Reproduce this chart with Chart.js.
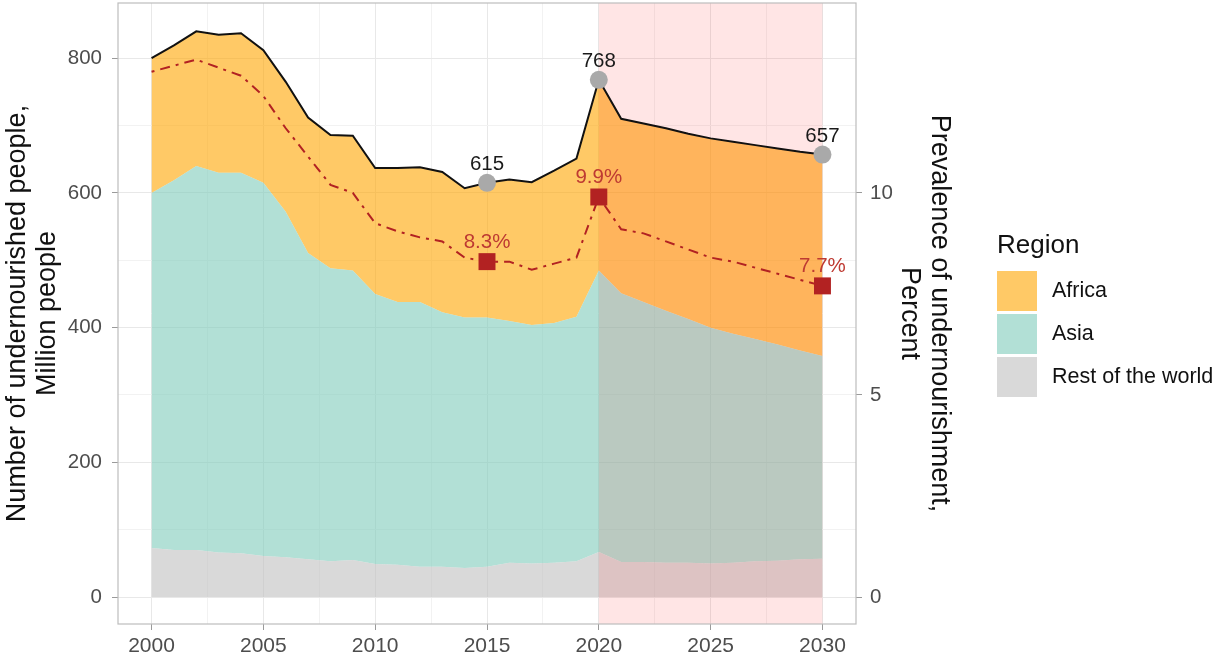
<!DOCTYPE html>
<html>
<head>
<meta charset="utf-8">
<script src="https://cdn.jsdelivr.net/npm/chart.js@4/dist/chart.umd.min.js"></script>
<style>
  html, body { margin: 0; padding: 0; background: #ffffff; }
  #wrap { width: 1213px; height: 661px; position: relative; }
</style>
</head>
<body>
<div id="wrap"><canvas id="c"></canvas></div>
<script>
// ---------------- data ----------------
const years = [2000,2001,2002,2003,2004,2005,2006,2007,2008,2009,2010,2011,2012,2013,2014,2015,
               2016,2017,2018,2019,2020,2021,2022,2023,2024,2025,2026,2027,2028,2029,2030];
// Million people
const restOfWorld = [73,70,70,66,65,61,59,56,53,55,49,48,45,45,43,45,51,50,51,53,67,52,52,51,51,50,51,53,54,56,57];
const asia        = [527,549,570,564,565,554,513,455,435,430,401,390,393,378,372,370,359,354,356,363,418,399,386,374,362,350,340,330,321,310,301];
const africa      = [200,200,200,205,207,197,193,201,198,200,187,199,200,208,192,200,210,212,226,235,283,259,265,271,275,281,285,288,291,295,299];
// Percent
const prevalence  = [13.0,13.15,13.3,13.1,12.9,12.4,11.6,10.9,10.2,10.0,9.25,9.05,8.9,8.8,8.4,8.3,8.3,8.1,8.25,8.4,9.9,9.1,9.0,8.8,8.6,8.4,8.3,8.15,8.0,7.85,7.7];
const highlightYears = [2015, 2020, 2030];
const projectionStart = 2020, projectionEnd = 2030;
const regionNames = ['Africa', 'Asia', 'Rest of the world'];
const xTickLabels = [2000, 2005, 2010, 2015, 2020, 2025, 2030];
const yTickLabels = [0, 200, 400, 600, 800];
const y2TickLabels = [0, 5, 10];

// ---------------- style ----------------
const FONT = "'Liberation Sans', Arial, Helvetica, sans-serif";
const COL_AFRICA = 'rgba(255,165,0,0.6)';
const COL_ASIA = 'rgba(127,203,187,0.6)';
const COL_REST = 'rgba(191,191,191,0.6)';
const KEY_AFRICA = 'rgb(255,201,102)';
const KEY_ASIA = 'rgb(178,224,214)';
const KEY_REST = 'rgb(217,217,217)';
const RED = '#B22222';
const TICK_COL = '#4D4D4D';

const pts = arr => years.map((y, i) => ({x: y, y: arr[i]}));
const isHL = ctx => highlightYears.includes(years[ctx.dataIndex]);

const gridColor = (ctx, step) => {
  const v = ctx.tick ? ctx.tick.value : 0;
  return (Math.abs(v % step) < 1e-9) ? '#E8E8E8' : '#F2F2F2';
};
const tickMarkColor = (ctx, step) => {
  const v = ctx.tick ? ctx.tick.value : 0;
  return (Math.abs(v % step) < 1e-9) ? '#9A9A9A' : 'rgba(0,0,0,0)';
};

const pinkPlugin = {
  id: 'pink',
  beforeDatasetsDraw(chart) {
    const {ctx, chartArea: a, scales: {x}} = chart;
    const x0 = x.getPixelForValue(projectionStart), x1 = x.getPixelForValue(projectionEnd);
    ctx.save();
    ctx.fillStyle = 'rgba(255,0,0,0.1)';
    ctx.fillRect(x0, a.top, x1 - x0, a.bottom - a.top);
    ctx.restore();
  }
};

const labelPlugin = {
  id: 'labels',
  afterDatasetsDraw(chart) {
    const {ctx} = chart;
    const mTot = chart.getDatasetMeta(2);
    const mPrev = chart.getDatasetMeta(3);
    ctx.save();
    ctx.font = '20.5px ' + FONT;
    ctx.textAlign = 'center';
    ctx.textBaseline = 'alphabetic';
    years.forEach((yr, i) => {
      if (!highlightYears.includes(yr)) return;
      const total = restOfWorld[i] + asia[i] + africa[i];
      const p = mTot.data[i];
      ctx.fillStyle = '#1a1a1a';
      ctx.fillText(String(total), p.x, p.y - 13);
      const q = mPrev.data[i];
      ctx.fillStyle = '#BE3A32';
      ctx.fillText(prevalence[i].toFixed(1) + '%', q.x, q.y - 14);
    });
    ctx.restore();
  },
  afterDraw(chart) {
    const {ctx, chartArea: a} = chart;
    ctx.save();
    // panel border
    ctx.strokeStyle = '#BDBDBD';
    ctx.lineWidth = 1.2;
    ctx.strokeRect(a.left, a.top, a.right - a.left, a.bottom - a.top);
    // legend
    ctx.fillStyle = '#111';
    ctx.font = '26px ' + FONT;
    ctx.textAlign = 'left';
    ctx.textBaseline = 'alphabetic';
    ctx.fillText('Region', 997, 253);
    const keys = [KEY_AFRICA, KEY_ASIA, KEY_REST];
    ctx.font = '21.5px ' + FONT;
    regionNames.forEach((name, i) => {
      const top = 271 + i * 43;
      ctx.fillStyle = keys[i];
      ctx.fillRect(997, top, 40, 40);
      ctx.fillStyle = '#111';
      ctx.textBaseline = 'middle';
      ctx.fillText(name, 1052, top + 20);
    });
    ctx.restore();
  }
};

Chart.defaults.font.family = FONT;

new Chart(document.getElementById('c'), {
  type: 'line',
  data: {
    datasets: [
      { label: regionNames[2], data: pts(restOfWorld), yAxisID: 'y', stack: 'regions', order: 1,
        fill: 'origin', backgroundColor: COL_REST, borderColor: 'rgba(0,0,0,0)', borderWidth: 1,
        pointRadius: 0, pointHoverRadius: 0, tension: 0 },
      { label: regionNames[1], data: pts(asia), yAxisID: 'y', stack: 'regions', order: 2,
        fill: '-1', backgroundColor: COL_ASIA, borderColor: 'rgba(0,0,0,0)', borderWidth: 1,
        pointRadius: 0, pointHoverRadius: 0, tension: 0 },
      { label: regionNames[0], data: pts(africa), yAxisID: 'y', stack: 'regions', order: 3,
        fill: '-1', backgroundColor: COL_AFRICA, borderColor: '#111111', borderWidth: 2,
        pointStyle: 'circle', pointRadius: c => isHL(c) ? 9 : 0, pointHoverRadius: c => isHL(c) ? 9 : 0,
        pointBackgroundColor: '#A9A9A9', pointBorderWidth: 0, pointBorderColor: 'rgba(0,0,0,0)', tension: 0 },
      { label: 'Prevalence', data: pts(prevalence), yAxisID: 'y2', order: 0, fill: false,
        borderColor: RED, borderWidth: 2, borderDash: [3, 6, 10, 6],
        pointStyle: 'rect', pointRadius: c => isHL(c) ? 12 : 0, pointHoverRadius: c => isHL(c) ? 12 : 0,
        pointBackgroundColor: RED, pointBorderWidth: 0, pointBorderColor: 'rgba(0,0,0,0)', tension: 0 }
    ]
  },
  options: {
    responsive: true,
    maintainAspectRatio: false,
    animation: false,
    events: [],
    layout: { autoPadding: false, padding: { left: 0, top: 3, right: 256, bottom: 0 } },
    plugins: {
      legend: { display: false },
      tooltip: { enabled: false },
      filler: { drawTime: 'beforeDatasetsDraw' }
    },
    scales: {
      x: {
        type: 'linear', position: 'bottom', min: 1998.5, max: 2031.5,
        afterFit: s => { s.height = 37; s.paddingLeft = 0; s.paddingRight = 0; },
        border: { display: false },
        grid: { color: c => gridColor(c, 5), lineWidth: 1, tickLength: 6, tickColor: c => tickMarkColor(c, 5) },
        ticks: {
          stepSize: 2.5, includeBounds: false, autoSkip: false, maxRotation: 0, minRotation: 0,
          padding: 4, color: TICK_COL, font: { size: 21 },
          callback: v => xTickLabels.includes(v) ? String(v) : ''
        }
      },
      y: {
        type: 'linear', position: 'left', stacked: true, min: -40, max: 882,
        afterFit: s => { s.width = 118; s.paddingTop = 0; s.paddingBottom = 0; },
        border: { display: false },
        grid: { color: c => gridColor(c, 200), lineWidth: 1, tickLength: 6, tickColor: c => tickMarkColor(c, 200) },
        ticks: {
          stepSize: 100, includeBounds: false, autoSkip: false, padding: 10, color: TICK_COL, font: { size: 20.5 },
          callback: v => yTickLabels.includes(v) ? String(v) : ''
        },
        title: {
          display: true, text: ['Number of undernourished people,', 'Million people'],
          color: '#111', font: { size: 27, lineHeight: 1.1 }, padding: { top: 3, bottom: 0 }
        }
      },
      y2: {
        type: 'linear', position: 'right', min: -40 / 60, max: 882 / 60,
        afterFit: s => { s.width = 101; s.paddingTop = 0; s.paddingBottom = 0; },
        border: { display: false },
        grid: { drawOnChartArea: false, tickLength: 6, tickColor: '#9A9A9A' },
        ticks: {
          stepSize: 5, includeBounds: false, autoSkip: false, padding: 8, color: TICK_COL, font: { size: 20.5 },
          callback: v => y2TickLabels.includes(v) ? String(v) : ''
        },
        title: {
          display: true, text: ['Prevalence of undernourishment,', 'Percent'],
          color: '#111', font: { size: 27, lineHeight: 1.1 }, padding: { top: 3, bottom: 0 }
        }
      }
    }
  },
  plugins: [pinkPlugin, labelPlugin]
});
</script>
</body>
</html>
